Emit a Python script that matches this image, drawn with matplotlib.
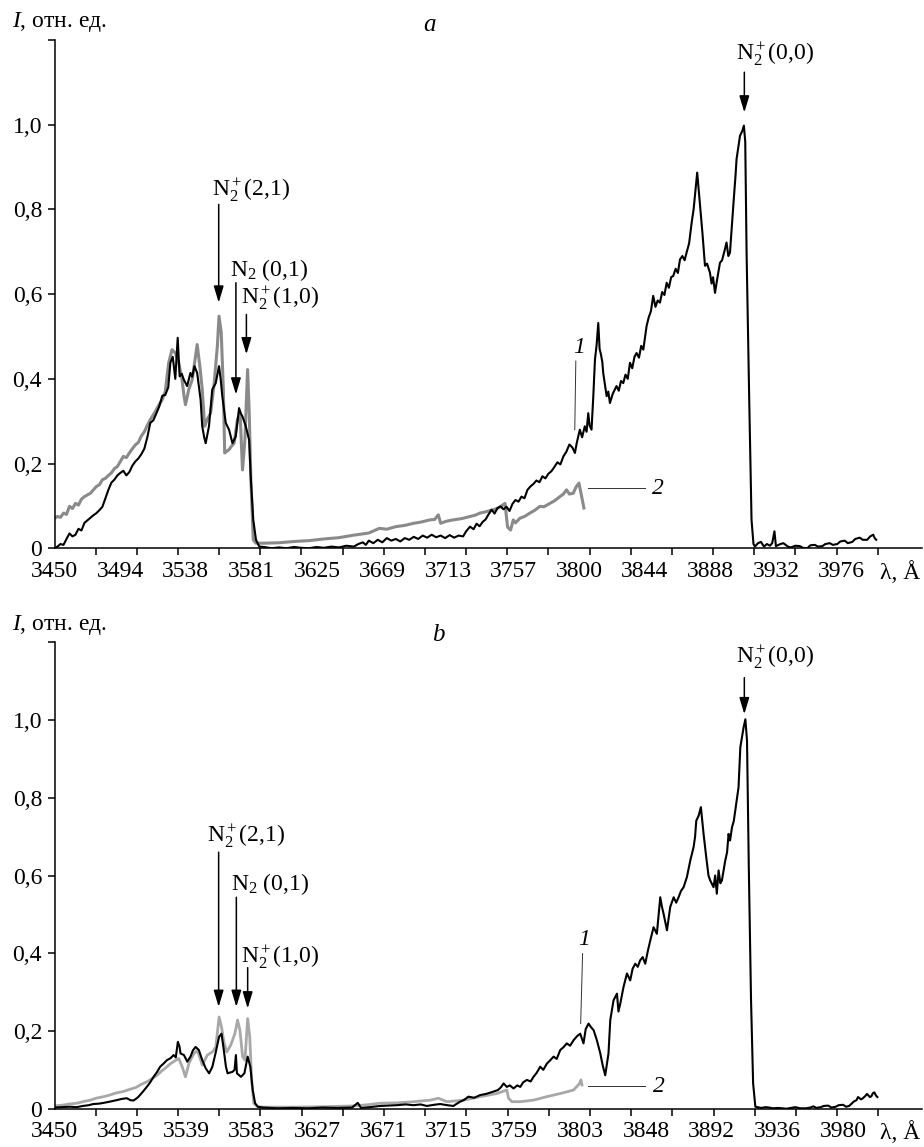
import numpy as np
import matplotlib.pyplot as plt

plt.rcParams['font.family'] = ['Liberation Serif', 'DejaVu Serif']
plt.rcParams['mathtext.fontset'] = 'custom'
plt.rcParams['mathtext.rm'] = 'Liberation Serif'
plt.rcParams['mathtext.it'] = 'Liberation Serif:italic'

# ---- data: (wavelength, relative intensity) ----
# panel a, curve 1 (black)
spec_a1 = [
    (3450, 0.000), (3452, 0.004), (3454, 0.010), (3456, 0.008), (3458, 0.022), (3460, 0.035),
    (3462, 0.028), (3464, 0.032), (3466, 0.046), (3468, 0.042), (3470, 0.060), (3472, 0.066),
    (3474, 0.072), (3476, 0.078), (3478, 0.083), (3480, 0.090), (3482, 0.098), (3484, 0.118),
    (3486, 0.138), (3488, 0.155), (3490, 0.162), (3492, 0.172), (3494, 0.178), (3496, 0.183),
    (3498, 0.172), (3500, 0.180), (3502, 0.195), (3504, 0.205), (3506, 0.212), (3508, 0.222),
    (3510, 0.235), (3512, 0.262), (3514, 0.296), (3516, 0.302), (3518, 0.318), (3520, 0.335),
    (3522, 0.360), (3524, 0.362), (3526, 0.380), (3527.4, 0.438), (3529, 0.452), (3530.7, 0.400),
    (3532.3, 0.497), (3533.6, 0.406), (3535, 0.412), (3536.4, 0.398), (3538.6, 0.383),
    (3540.8, 0.414), (3542, 0.405), (3543.5, 0.430), (3545.3, 0.414), (3547.6, 0.351),
    (3548.7, 0.288), (3550, 0.262), (3551, 0.248), (3553.2, 0.288), (3555.4, 0.375),
    (3557.7, 0.390), (3559.9, 0.430), (3561, 0.400), (3562.1, 0.359), (3564.4, 0.296),
    (3566.6, 0.280), (3568.9, 0.248), (3571.1, 0.264), (3573.3, 0.331), (3574.5, 0.318),
    (3575.6, 0.311), (3577.8, 0.288), (3580, 0.256), (3581.2, 0.162), (3582.8, 0.067),
    (3584.6, 0.020), (3586.8, 0.004), (3590, 0.003), (3595, 0.000), (3600, 0.002), (3605, 0.000),
    (3610, 0.003), (3615, 0.001), (3620, 0.000), (3625, 0.003), (3630, 0.001), (3635, 0.004),
    (3640, 0.002), (3645, 0.006), (3650, 0.004), (3653, 0.010), (3656, 0.014), (3658, 0.008),
    (3660, 0.018), (3663, 0.012), (3666, 0.020), (3669, 0.014), (3672, 0.024), (3675, 0.018),
    (3678, 0.022), (3681, 0.016), (3684, 0.024), (3687, 0.020), (3690, 0.027), (3693, 0.022),
    (3696, 0.030), (3699, 0.025), (3702, 0.032), (3705, 0.026), (3708, 0.030), (3711, 0.024),
    (3714, 0.031), (3717, 0.025), (3720, 0.030), (3723, 0.028), (3725, 0.040), (3727.6, 0.051),
    (3730, 0.045), (3732, 0.058), (3734, 0.052), (3736, 0.062), (3738, 0.068), (3740, 0.080),
    (3742, 0.091), (3744, 0.082), (3746, 0.095), (3748, 0.099), (3750, 0.092), (3752, 0.098),
    (3754, 0.088), (3756, 0.105), (3758, 0.114), (3760, 0.110), (3762, 0.122), (3764, 0.118),
    (3766, 0.138), (3768, 0.146), (3770, 0.152), (3772, 0.160), (3774, 0.156), (3776, 0.170),
    (3778, 0.165), (3780, 0.176), (3782, 0.182), (3784, 0.192), (3786, 0.203), (3788, 0.198),
    (3790, 0.217), (3792, 0.228), (3794, 0.245), (3796, 0.238), (3797.7, 0.225), (3799, 0.250),
    (3801, 0.280), (3802.5, 0.262), (3804.3, 0.288), (3805.5, 0.275), (3806.6, 0.319),
    (3807.5, 0.290), (3808.8, 0.280), (3810, 0.360), (3811.1, 0.446), (3812.2, 0.480),
    (3813.3, 0.532), (3814.2, 0.470), (3814.9, 0.461), (3816, 0.440), (3816.6, 0.414),
    (3818, 0.380), (3818.9, 0.359), (3820, 0.370), (3821.1, 0.343), (3823, 0.365),
    (3825.5, 0.383), (3827, 0.372), (3828.5, 0.395), (3830, 0.390), (3831.5, 0.410),
    (3833, 0.400), (3834.5, 0.438), (3836, 0.425), (3837.5, 0.452), (3838.9, 0.461),
    (3840.5, 0.450), (3842, 0.478), (3843.4, 0.469), (3845.6, 0.525), (3847, 0.545),
    (3848.5, 0.560), (3850, 0.596), (3851.5, 0.570), (3853, 0.585), (3854.5, 0.580),
    (3856, 0.605), (3857.5, 0.598), (3859, 0.627), (3860.5, 0.615), (3862, 0.640),
    (3863.4, 0.643), (3865, 0.660), (3866.5, 0.650), (3867.9, 0.682), (3869.5, 0.690),
    (3871, 0.680), (3872.3, 0.698), (3874, 0.720), (3875.7, 0.769), (3877, 0.800),
    (3877.9, 0.832), (3879.4, 0.887), (3880.3, 0.850), (3881.2, 0.816), (3883, 0.740),
    (3884.6, 0.667), (3886, 0.672), (3887.9, 0.651), (3889, 0.625), (3890, 0.640),
    (3891.3, 0.603), (3892.5, 0.630), (3894.6, 0.674), (3896, 0.680), (3897.5, 0.700),
    (3899, 0.722), (3900.2, 0.690), (3901.3, 0.698), (3902.5, 0.760), (3903.5, 0.808),
    (3905, 0.880), (3905.7, 0.919), (3907, 0.950), (3908, 0.974), (3909.5, 0.985),
    (3910.6, 0.998), (3911.5, 0.960), (3912.4, 0.698), (3914.2, 0.343), (3915.7, 0.067),
    (3917, 0.010), (3918, 0.004), (3920, 0.012), (3922, 0.015), (3924, 0.004), (3926, 0.010),
    (3928, 0.006), (3929.5, 0.012), (3931, 0.040), (3932, 0.005), (3935, 0.010), (3937, 0.012),
    (3940, 0.004), (3942, 0.002), (3945, 0.006), (3948, 0.005), (3950, 0.001), (3953, 0.000),
    (3955, 0.007), (3958, 0.008), (3960, 0.004), (3963, 0.005), (3965, 0.010), (3968, 0.012),
    (3970, 0.008), (3973, 0.010), (3975, 0.016), (3978, 0.018), (3980, 0.012), (3983, 0.015),
    (3985, 0.022), (3988, 0.025), (3990, 0.020), (3993, 0.020), (3995, 0.028), (3997, 0.032),
    (3998, 0.024), (3999, 0.020),
]

# panel a, curve 2 (grey)
spec_a2 = [
    (3450, 0.071), (3452, 0.075), (3454, 0.073), (3456, 0.083), (3458, 0.080), (3460, 0.099),
    (3462, 0.094), (3464, 0.106), (3466, 0.102), (3468, 0.116), (3470, 0.122), (3472, 0.126),
    (3474, 0.130), (3476, 0.138), (3478, 0.146), (3480, 0.150), (3482, 0.162), (3484, 0.165),
    (3486, 0.172), (3488, 0.178), (3490, 0.188), (3492, 0.193), (3494, 0.205), (3496, 0.217),
    (3498, 0.214), (3500, 0.225), (3502, 0.235), (3504, 0.244), (3506, 0.250), (3508, 0.265),
    (3510, 0.275), (3512, 0.290), (3514, 0.304), (3516, 0.315), (3518, 0.327), (3520, 0.340),
    (3522, 0.351), (3524, 0.370), (3525, 0.400), (3526.3, 0.438), (3528.5, 0.469),
    (3530.7, 0.461), (3533, 0.438), (3535.2, 0.398), (3536.5, 0.360), (3537.5, 0.339),
    (3539.7, 0.375), (3542, 0.398), (3544.2, 0.453), (3545.3, 0.481), (3547.1, 0.430),
    (3548.7, 0.375), (3550.3, 0.288), (3552, 0.304), (3554.3, 0.319), (3556.5, 0.383),
    (3558.8, 0.477), (3559.9, 0.548), (3561.4, 0.509), (3562.8, 0.375), (3563.7, 0.225),
    (3566.6, 0.233), (3568, 0.240), (3570, 0.248), (3572.2, 0.304), (3574, 0.319),
    (3575.6, 0.185), (3577.2, 0.256), (3579, 0.422), (3580.1, 0.319), (3581.2, 0.162),
    (3582.8, 0.020), (3584.6, 0.012), (3590, 0.012), (3600, 0.013), (3610, 0.016),
    (3620, 0.018), (3630, 0.022), (3640, 0.025), (3650, 0.031), (3660, 0.036), (3667, 0.047),
    (3672, 0.045), (3678, 0.051), (3684, 0.054), (3690, 0.059), (3695, 0.062), (3700.8, 0.067),
    (3704, 0.068), (3706.4, 0.079), (3708, 0.059), (3712, 0.064), (3716.4, 0.067),
    (3722, 0.070), (3727.6, 0.075), (3731, 0.078), (3734.2, 0.083), (3738, 0.086),
    (3743.2, 0.091), (3747, 0.096), (3751, 0.106), (3752.7, 0.050), (3754.7, 0.043),
    (3756.5, 0.067), (3758, 0.060), (3761, 0.071), (3764, 0.075), (3767.6, 0.083),
    (3771, 0.090), (3774.3, 0.099), (3777, 0.098), (3781, 0.106), (3784, 0.112),
    (3787.7, 0.122), (3790, 0.128), (3792.1, 0.138), (3794, 0.128), (3796.6, 0.130),
    (3798.5, 0.145), (3800.4, 0.154), (3802.2, 0.122), (3803.7, 0.095),
]

# panel b, curve 1 (black)
spec_b1 = [
    (3450, 0.003), (3455, 0.004), (3460, 0.005), (3465, 0.004), (3469, 0.007), (3473, 0.009),
    (3476, 0.012), (3480, 0.013), (3483, 0.015), (3487, 0.018), (3491.8, 0.022), (3495, 0.025),
    (3498.5, 0.027), (3501, 0.022), (3503, 0.021), (3505, 0.026), (3506.5, 0.031), (3509, 0.042),
    (3512, 0.056), (3514, 0.066), (3516.6, 0.082), (3519, 0.095), (3521, 0.108), (3523, 0.115),
    (3525.6, 0.125), (3528, 0.130), (3530, 0.138), (3531.5, 0.132), (3532.9, 0.172),
    (3534, 0.160), (3534.7, 0.142), (3537, 0.138), (3539.2, 0.121), (3541.4, 0.134),
    (3543, 0.150), (3544.8, 0.159), (3547, 0.151), (3549.3, 0.125), (3551.6, 0.104),
    (3553.9, 0.091), (3556.1, 0.108), (3558.4, 0.146), (3560.6, 0.185), (3562.2, 0.193),
    (3563.5, 0.159), (3565.2, 0.108), (3566.3, 0.091), (3568, 0.093), (3569.7, 0.095),
    (3571, 0.100), (3571.9, 0.138), (3572.6, 0.091), (3575.3, 0.082), (3577.6, 0.091),
    (3579.8, 0.134), (3581.6, 0.108), (3583.2, 0.048), (3584.8, 0.014), (3586.6, 0.005),
    (3590, 0.003), (3600, 0.001), (3610, 0.002), (3620, 0.001), (3630, 0.003), (3640, 0.002),
    (3650, 0.003), (3653.8, 0.015), (3656, 0.002), (3662, 0.004), (3668.8, 0.007),
    (3675, 0.008), (3680, 0.009), (3686, 0.011), (3691.3, 0.009), (3696, 0.011),
    (3700.2, 0.007), (3705, 0.010), (3709.2, 0.012), (3714, 0.009), (3718.1, 0.007),
    (3720, 0.012), (3722.6, 0.018), (3725, 0.022), (3728.2, 0.031), (3732, 0.028),
    (3736, 0.035), (3740, 0.038), (3745, 0.044), (3748, 0.048), (3750, 0.055), (3751.8, 0.065),
    (3754, 0.056), (3756, 0.060), (3758.5, 0.052), (3761, 0.060), (3763, 0.056), (3765, 0.068),
    (3767.5, 0.074), (3770, 0.070), (3771.9, 0.082), (3774, 0.092), (3776.4, 0.108),
    (3778.5, 0.100), (3780.9, 0.116), (3783, 0.124), (3785.4, 0.134), (3787.5, 0.128),
    (3789.9, 0.151), (3792, 0.158), (3794.3, 0.168), (3796.5, 0.162), (3798.8, 0.176),
    (3801, 0.186), (3803.3, 0.193), (3805.5, 0.168), (3807, 0.205), (3808.9, 0.219),
    (3810.5, 0.210), (3812.3, 0.202), (3814.5, 0.176), (3816.8, 0.142), (3818.5, 0.110),
    (3820.1, 0.086), (3822.3, 0.142), (3823.5, 0.228), (3825.7, 0.279), (3828, 0.296),
    (3829, 0.250), (3830.2, 0.270), (3832.4, 0.313), (3834.7, 0.348), (3836.9, 0.330),
    (3838.5, 0.360), (3840.3, 0.373), (3842, 0.365), (3843.6, 0.382), (3845.3, 0.390),
    (3847, 0.373), (3848.7, 0.405), (3850.4, 0.433), (3852.6, 0.467), (3854.8, 0.450),
    (3857.1, 0.544), (3858.2, 0.520), (3859.3, 0.502), (3860.5, 0.480), (3861.6, 0.459),
    (3863.8, 0.519), (3866.1, 0.544), (3867.8, 0.530), (3869.4, 0.544), (3871, 0.560),
    (3872.8, 0.570), (3875, 0.596), (3877.3, 0.639), (3879.5, 0.673), (3880.5, 0.700),
    (3881.3, 0.741), (3882.9, 0.754), (3884.4, 0.776), (3885.3, 0.740), (3886.2, 0.707),
    (3888, 0.647), (3889.5, 0.600), (3890.7, 0.587), (3892.9, 0.570), (3894, 0.600),
    (3895.1, 0.553), (3896.3, 0.613), (3897.5, 0.580), (3898.5, 0.587), (3900.8, 0.639),
    (3902, 0.660), (3903, 0.707), (3904, 0.690), (3905.3, 0.724), (3906.5, 0.740),
    (3907.5, 0.767), (3909.7, 0.827), (3910.9, 0.930), (3913.1, 0.981), (3914.3, 1.002),
    (3915.4, 0.947), (3916.6, 0.621), (3918.1, 0.279), (3919.5, 0.065), (3921, 0.005),
    (3925, 0.002), (3928, 0.004), (3930, 0.003), (3933, 0.001), (3936, 0.002), (3939, 0.001),
    (3942, 0.000), (3945, 0.002), (3948, 0.004), (3951, 0.001), (3955, 0.001), (3958, 0.003),
    (3960, 0.006), (3962, 0.002), (3965, 0.004), (3967, 0.007), (3970, 0.008), (3972, 0.003),
    (3975, 0.005), (3977, 0.009), (3980, 0.010), (3982, 0.005), (3984, 0.007), (3986, 0.014),
    (3987, 0.018), (3989, 0.022), (3990, 0.030), (3992, 0.024), (3993, 0.026), (3995, 0.033),
    (3996, 0.038), (3998, 0.030), (3999, 0.032), (4000, 0.040), (4001, 0.042), (4002, 0.034),
    (4003, 0.030),
]

# panel b, curve 2 (grey)
spec_b2 = [
    (3450, 0.007), (3455, 0.009), (3460, 0.012), (3465, 0.014), (3469, 0.018), (3474, 0.022),
    (3478, 0.027), (3483, 0.031), (3487, 0.035), (3491, 0.040), (3496, 0.044), (3500, 0.049),
    (3505, 0.055), (3508, 0.062), (3512, 0.069), (3515, 0.076), (3518.9, 0.086), (3522, 0.097),
    (3525.6, 0.108), (3528, 0.116), (3530, 0.121), (3533.5, 0.129), (3535.8, 0.108),
    (3538, 0.082), (3540.3, 0.116), (3542, 0.130), (3543.7, 0.142), (3546, 0.150),
    (3548, 0.128), (3549.3, 0.112), (3551, 0.125), (3552.7, 0.138), (3556.1, 0.146),
    (3558.4, 0.159), (3560.6, 0.236), (3562.2, 0.211), (3564, 0.168), (3565.8, 0.146),
    (3568.5, 0.164), (3571.2, 0.193), (3573, 0.228), (3574.6, 0.202), (3576.4, 0.134),
    (3578, 0.125), (3579.8, 0.232), (3581.2, 0.185), (3582.5, 0.074), (3583.9, 0.014),
    (3586.6, 0.005), (3590, 0.004), (3610, 0.004), (3630, 0.005), (3650, 0.007), (3660, 0.010),
    (3668.8, 0.014), (3680, 0.015), (3691.3, 0.018), (3702.5, 0.022), (3708, 0.027),
    (3713.7, 0.018), (3724.9, 0.022), (3736, 0.031), (3747.3, 0.039), (3754, 0.048),
    (3755.1, 0.027), (3757.4, 0.018), (3763, 0.018), (3771.9, 0.022), (3780.9, 0.031),
    (3789.9, 0.039), (3798.8, 0.048), (3802.9, 0.065), (3803.8, 0.074), (3804.5, 0.061),
]

labels_a = ['3450', '3494', '3538', '3581', '3625', '3669', '3713',
            '3757', '3800', '3844', '3888', '3932', '3976']
labels_b = ['3450', '3495', '3539', '3583', '3627', '3671', '3715',
            '3759', '3803', '3848', '3892', '3936', '3980']
y_labels = ['0', '0,2', '0,4', '0,6', '0,8', '1,0', '']

# band markers: label, text x, text y, arrow x, arrow start, arrow end
bands_a = [
    (r'N$_2^+$(2,1)', 3581.4, 0.845, 3559.7, 0.812, 0.580),
    (r'N$_2$ (0,1)', 3593.1, 0.657, 3571.2, 0.627, 0.363),
    (r'N$_2^+$(1,0)', 3600.4, 0.590, 3578.2, 0.552, 0.458),
    (r'N$_2^+$(0,0)', 3931.4, 1.167, 3910.9, 1.124, 1.029),
]
bands_b = [
    (r'N$_2^+$(2,1)', 3578.8, 0.700, 3560.3, 0.660, 0.262),
    (r'N$_2$ (0,1)', 3594.6, 0.577, 3572.2, 0.544, 0.262),
    (r'N$_2^+$(1,0)', 3601.3, 0.390, 3579.8, 0.363, 0.258),
    (r'N$_2^+$(0,0)', 3934.3, 1.160, 3913.6, 1.109, 1.015),
]

FS = 17


def draw_panel(ax, black, grey, grey_color, grey_lw, labels, tick_step, xmax, axis_pos,
               bands, curve1, curve2):
    wg, ig = zip(*grey)
    wb, ib = zip(*black)
    ax.plot(wg, ig, color=grey_color, lw=grey_lw)
    ax.plot(wb, ib, color='black', lw=1.5)

    ax.set_xlim(3450, xmax)
    ax.set_ylim(0, 1.2)
    for s in ['top', 'right']:
        ax.spines[s].set_visible(False)
    for s in ['left', 'bottom']:
        ax.spines[s].set_linewidth(1.1)

    pos = list(np.linspace(3450, float(labels[-1]), len(labels))) + [axis_pos]
    ax.set_xticks(pos)
    ax.set_xticklabels(labels + ['λ, Å'])
    ax.set_xticks(3450 + tick_step * np.arange(21), minor=True)
    ax.tick_params(axis='x', which='major', length=0, pad=9, labelsize=FS)
    ax.tick_params(axis='x', which='minor', length=5, width=1.1, direction='out')

    ax.set_yticks(np.arange(7) * 0.2)
    ax.set_yticklabels(y_labels)
    ax.tick_params(axis='y', length=5, width=1.1, direction='out', pad=4, labelsize=FS)

    for txt, tx, ty, axx, y0, y1 in bands:
        ax.text(tx, ty, txt, fontsize=FS, ha='center', va='center')
        ax.annotate('', xy=(axx, y1), xytext=(axx, y0),
                    arrowprops=dict(arrowstyle='-|>,head_length=1.0,head_width=0.3',
                                    color='black', lw=1.1, mutation_scale=10,
                                    shrinkA=0, shrinkB=0))

    # curve numbers with leader lines
    (n1x, n1y, l1x0, l1y0, l1x1, l1y1) = curve1
    ax.text(n1x, n1y, '1', fontsize=FS, style='italic', ha='center', va='center')
    ax.plot([l1x0, l1x1], [l1y0, l1y1], color='#333333', lw=0.7)
    (n2x, n2y, l2x0, l2x1, l2y) = curve2
    ax.text(n2x, n2y, '2', fontsize=FS, style='italic', ha='center', va='center')
    ax.plot([l2x0, l2x1], [l2y, l2y], color='#333333', lw=0.7)


fig = plt.figure(figsize=(9.24, 11.47), dpi=100)
ax_a = fig.add_axes([0.059, 0.522, 0.939, 0.4431])
ax_b = fig.add_axes([0.059, 0.0334, 0.939, 0.4066])

draw_panel(ax_a, spec_a1, spec_a2, '#8a8a8a', 2.2, labels_a, 27.5, 4029.7, 4015.0, bands_a,
           (3800.5, 0.475, 3798.3, 0.442, 3797.6, 0.280),
           (3853.4, 0.142, 3806.6, 3844.5, 0.143))
draw_panel(ax_b, spec_b1, spec_b2, '#a8a8a8', 2.0, labels_b, 27.68, 4033.1, 4018.3, bands_b,
           (3806.0, 0.435, 3804.9, 0.399, 3803.6, 0.219),
           (3856.2, 0.057, 3808.7, 3846.8, 0.058))

fig.text(0.013, 0.981, '$I$, отн. ед.', fontsize=FS, ha='left', va='center')
fig.text(0.465, 0.978, 'a', fontsize=FS + 1, style='italic', ha='center', va='center')
fig.text(0.013, 0.455, '$I$, отн. ед.', fontsize=FS, ha='left', va='center')
fig.text(0.474, 0.446, 'b', fontsize=FS + 1, style='italic', ha='center', va='center')

fig.savefig('out.png', dpi=100)
